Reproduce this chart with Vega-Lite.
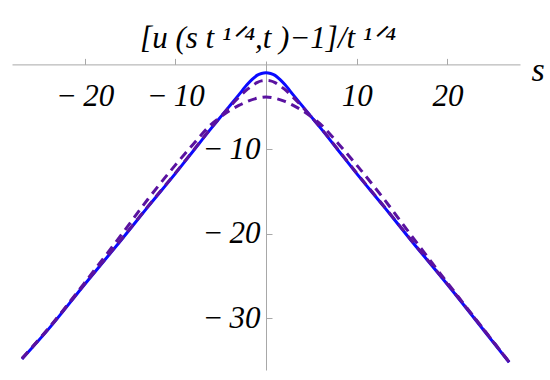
{
  "$schema": "https://vega.github.io/schema/vega-lite/v6.json",
  "width": 508,
  "height": 309,
  "autosize": {"type": "none"},
  "padding": {"left": 12, "top": 61, "right": 30, "bottom": 10},
  "background": "white",
  "title": {
    "text": "[u (s t ¹ᐟ⁴,t )−1]/t ¹ᐟ⁴",
    "font": "Liberation Serif",
    "fontStyle": "italic",
    "fontWeight": "normal",
    "fontSize": 31,
    "color": "black",
    "frame": "group",
    "anchor": "middle",
    "baseline": "alphabetic",
    "offset": -26,
    "dx": 2
  },
  "data": {
    "values": [
      {"s": -26.9, "y": -34.8, "c": "a"},
      {"s": -24, "y": -31.3, "c": "a"},
      {"s": -20, "y": -26.0, "c": "a"},
      {"s": -16, "y": -20.8, "c": "a"},
      {"s": -13, "y": -16.8, "c": "a"},
      {"s": -10, "y": -12.9, "c": "a"},
      {"s": -8, "y": -10.2, "c": "a"},
      {"s": -6, "y": -7.5, "c": "a"},
      {"s": -5, "y": -6.2, "c": "a"},
      {"s": -4, "y": -4.9, "c": "a"},
      {"s": -3, "y": -3.6, "c": "a"},
      {"s": -2, "y": -2.3, "c": "a"},
      {"s": -1.5, "y": -1.75, "c": "a"},
      {"s": -1, "y": -1.3, "c": "a"},
      {"s": -0.5, "y": -1.08, "c": "a"},
      {"s": 0, "y": -1.0, "c": "a"},
      {"s": 0.5, "y": -1.08, "c": "a"},
      {"s": 1, "y": -1.3, "c": "a"},
      {"s": 1.5, "y": -1.75, "c": "a"},
      {"s": 2, "y": -2.3, "c": "a"},
      {"s": 3, "y": -3.6, "c": "a"},
      {"s": 4, "y": -4.9, "c": "a"},
      {"s": 5, "y": -6.2, "c": "a"},
      {"s": 6, "y": -7.5, "c": "a"},
      {"s": 8, "y": -10.2, "c": "a"},
      {"s": 10, "y": -12.9, "c": "a"},
      {"s": 13, "y": -16.8, "c": "a"},
      {"s": 16, "y": -20.8, "c": "a"},
      {"s": 20, "y": -26.0, "c": "a"},
      {"s": 24, "y": -31.4, "c": "a"},
      {"s": 26.8, "y": -35.2, "c": "a"},

      {"s": -26.9, "y": -34.75, "c": "b"},
      {"s": -24, "y": -31.25, "c": "b"},
      {"s": -20, "y": -25.95, "c": "b"},
      {"s": -16, "y": -20.75, "c": "b"},
      {"s": -13, "y": -16.75, "c": "b"},
      {"s": -10, "y": -12.85, "c": "b"},
      {"s": -8, "y": -10.15, "c": "b"},
      {"s": -6, "y": -7.45, "c": "b"},
      {"s": -5, "y": -6.2, "c": "b"},
      {"s": -4, "y": -5.0, "c": "b"},
      {"s": -3, "y": -3.9, "c": "b"},
      {"s": -2, "y": -2.9, "c": "b"},
      {"s": -1.5, "y": -2.5, "c": "b"},
      {"s": -1, "y": -2.15, "c": "b"},
      {"s": -0.5, "y": -1.95, "c": "b"},
      {"s": 0, "y": -1.9, "c": "b"},
      {"s": 0.5, "y": -1.95, "c": "b"},
      {"s": 1, "y": -2.15, "c": "b"},
      {"s": 1.5, "y": -2.5, "c": "b"},
      {"s": 2, "y": -2.9, "c": "b"},
      {"s": 3, "y": -3.9, "c": "b"},
      {"s": 4, "y": -5.0, "c": "b"},
      {"s": 5, "y": -6.2, "c": "b"},
      {"s": 6, "y": -7.45, "c": "b"},
      {"s": 8, "y": -10.15, "c": "b"},
      {"s": 10, "y": -12.85, "c": "b"},
      {"s": 13, "y": -16.75, "c": "b"},
      {"s": 16, "y": -20.75, "c": "b"},
      {"s": 20, "y": -25.95, "c": "b"},
      {"s": 24, "y": -31.35, "c": "b"},
      {"s": 26.8, "y": -35.15, "c": "b"},

      {"s": -26.9, "y": -34.75, "c": "c"},
      {"s": -24, "y": -31.2, "c": "c"},
      {"s": -20, "y": -25.8, "c": "c"},
      {"s": -16, "y": -20.2, "c": "c"},
      {"s": -13, "y": -15.9, "c": "c"},
      {"s": -10, "y": -11.9, "c": "c"},
      {"s": -8, "y": -9.4, "c": "c"},
      {"s": -6, "y": -7.05, "c": "c"},
      {"s": -5, "y": -6.2, "c": "c"},
      {"s": -4, "y": -5.45, "c": "c"},
      {"s": -3, "y": -4.85, "c": "c"},
      {"s": -2, "y": -4.35, "c": "c"},
      {"s": -1, "y": -4.0, "c": "c"},
      {"s": 0, "y": -3.85, "c": "c"},
      {"s": 1, "y": -4.0, "c": "c"},
      {"s": 2, "y": -4.35, "c": "c"},
      {"s": 3, "y": -4.85, "c": "c"},
      {"s": 4, "y": -5.45, "c": "c"},
      {"s": 5, "y": -6.2, "c": "c"},
      {"s": 6, "y": -7.05, "c": "c"},
      {"s": 8, "y": -9.4, "c": "c"},
      {"s": 10, "y": -11.9, "c": "c"},
      {"s": 13, "y": -15.9, "c": "c"},
      {"s": 16, "y": -20.2, "c": "c"},
      {"s": 20, "y": -25.8, "c": "c"},
      {"s": 24, "y": -31.3, "c": "c"},
      {"s": 26.8, "y": -35.15, "c": "c"}
    ]
  },
  "encoding": {
    "x": {
      "field": "s",
      "type": "quantitative",
      "scale": {"domain": [-28, 28], "nice": false, "zero": false},
      "axis": {
        "orient": "bottom",
        "offset": -305.6,
        "values": [-20, -10, 10, 20],
        "labelExpr": "datum.value < 0 ? '−\u2009' + abs(datum.value) : '' + datum.value",
        "grid": false,
        "tickSize": -6,
        "labelPadding": 23,
        "labelBaseline": "top",
        "labelFont": "Liberation Serif",
        "labelFontStyle": "italic",
        "labelFontSize": 31,
        "labelColor": "black",
        "labelFlush": false,
        "labelOverlap": false,
        "domainColor": "#a8a8a8",
        "tickColor": "#a8a8a8",
        "title": "s",
        "titleFont": "Liberation Serif",
        "titleFontStyle": "italic",
        "titleFontWeight": "normal",
        "titleFontSize": 34,
        "titleColor": "black",
        "titleAngle": 0,
        "titleAlign": "left",
        "titleBaseline": "middle",
        "titleX": 519,
        "titleY": 6
      }
    },
    "y": {
      "field": "y",
      "type": "quantitative",
      "scale": {"domain": [-36.1, 0.4], "nice": false, "zero": false},
      "axis": {
        "orient": "left",
        "offset": -254,
        "values": [-30, -20, -10],
        "labelExpr": "datum.value < 0 ? '−\u2009' + abs(datum.value) : '' + datum.value",
        "grid": false,
        "tickSize": -6,
        "labelPadding": 12,
        "labelBaseline": "middle",
        "labelFont": "Liberation Serif",
        "labelFontStyle": "italic",
        "labelFontSize": 31,
        "labelColor": "black",
        "labelFlush": false,
        "labelOverlap": false,
        "domainColor": "#a8a8a8",
        "tickColor": "#a8a8a8",
        "title": null
      }
    }
  },
  "layer": [
    {
      "transform": [{"filter": "datum.c == 'a'"}],
      "mark": {"type": "line", "color": "#0a0aff", "strokeWidth": 3, "interpolate": "monotone", "clip": true}
    },
    {
      "transform": [{"filter": "datum.c != 'a'"}],
      "mark": {"type": "line", "color": "#5a12a0", "strokeWidth": 3, "strokeDash": [9, 6], "interpolate": "monotone", "clip": true},
      "encoding": {"detail": {"field": "c"}}
    }
  ],
  "config": {"view": {"stroke": null}}
}
